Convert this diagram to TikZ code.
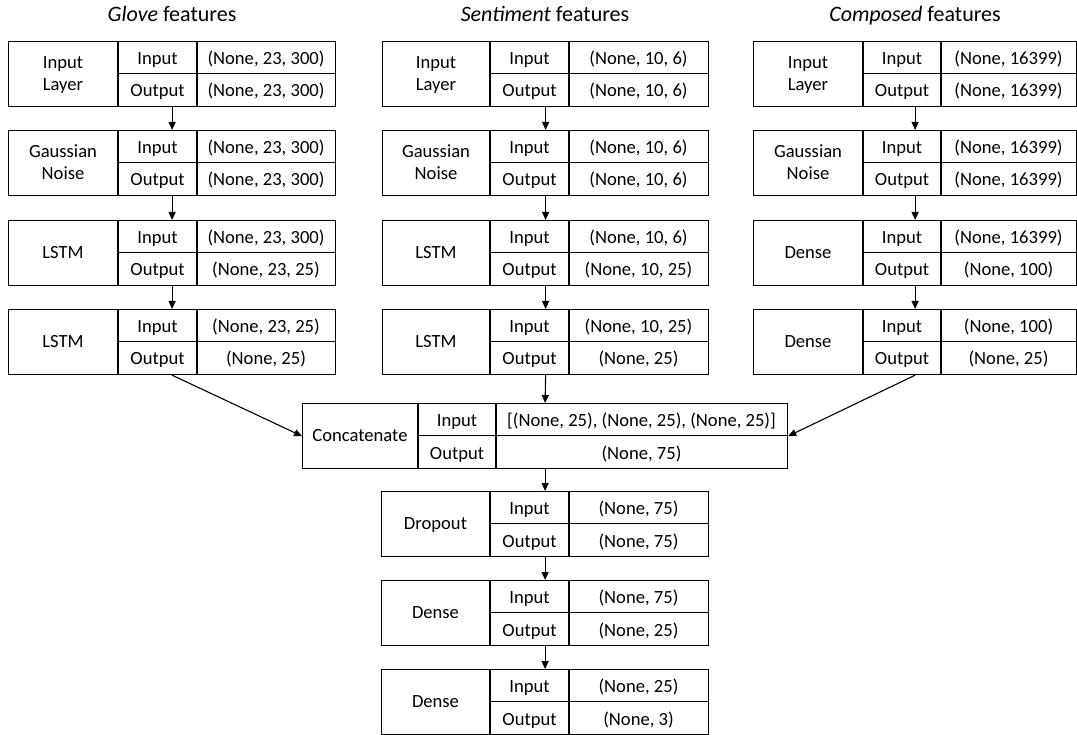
\documentclass[tikz,border=0pt]{standalone}
\usepackage{fontspec}
\setmainfont{Carlito}
\usetikzlibrary{arrows.meta}
\tikzset{
  blk/.style={draw, line width=1.2pt, inner sep=0pt, rectangle},
  ln/.style={line width=1.2pt},
  cell/.style={inner sep=0pt, font=\fontsize{18.6}{22}\selectfont, align=center},
  lbl/.style={cell, execute at begin node=\strut, yshift=-1.6pt},
  ttl/.style={inner sep=0pt, anchor=base, font=\fontsize{22}{26}\selectfont},
  arr/.style={line width=1.1pt, -{Triangle[length=8pt,width=7pt]}},
}
% #1 name, #2 x0, #3 x1, #4 x2, #5 x3, #6 ytop, #7 label, #8 input, #9 output
\newcommand\layerblock[9]{%
  \node[blk, anchor=north west, minimum width={(#5-#2)*1pt}, minimum height=65pt] (#1) at (#2,#6) {};
  \draw[ln] (#3,#6) -- (#3,{#6+65});
  \draw[ln] (#4,#6) -- (#4,{#6+65});
  \draw[ln] (#3,{#6+32.5}) -- (#5,{#6+32.5});
  \node[lbl] (#1-name) at ({(#2+#3)/2},{#6+32.5}) {#7};
  \node[cell, anchor=base] (#1-inl) at ({(#3+#4)/2},{#6+23.5}) {Input};
  \node[cell, anchor=base] (#1-outl) at ({(#3+#4)/2},{#6+56}) {Output};
  \node[cell, anchor=base] (#1-inv) at ({(#4+#5)/2},{#6+23.5}) {#8};
  \node[cell, anchor=base] (#1-outv) at ({(#4+#5)/2},{#6+56}) {#9};
}
\begin{document}
\begin{tikzpicture}[x=1pt,y=-1pt]
\useasboundingbox (0,0) rectangle (1077,735);

\node[ttl] (tg) at (172,22) {\textit{Glove} features};
\node[ttl] (ts) at (545,22) {\textit{Sentiment} features};
\node[ttl] (tc) at (915,22) {\textit{Composed} features};

% Glove column
\layerblock{g1}{8}{118}{197}{335}{41}{Input\strut\\Layer}{(None, 23, 300)}{(None, 23, 300)}
\layerblock{g2}{8}{118}{197}{335}{130}{Gaussian\strut\\Noise}{(None, 23, 300)}{(None, 23, 300)}
\layerblock{g3}{8}{118}{197}{335}{220}{LSTM}{(None, 23, 300)}{(None, 23, 25)}
\layerblock{g4}{8}{118}{197}{335}{309}{LSTM}{(None, 23, 25)}{(None, 25)}

% Sentiment column
\layerblock{s1}{382}{490}{569}{708}{41}{Input\strut\\Layer}{(None, 10, 6)}{(None, 10, 6)}
\layerblock{s2}{382}{490}{569}{708}{130}{Gaussian\strut\\Noise}{(None, 10, 6)}{(None, 10, 6)}
\layerblock{s3}{382}{490}{569}{708}{220}{LSTM}{(None, 10, 6)}{(None, 10, 25)}
\layerblock{s4}{382}{490}{569}{708}{309}{LSTM}{(None, 10, 25)}{(None, 25)}

% Composed column
\layerblock{c1}{753}{863}{941}{1076}{41}{Input\strut\\Layer}{(None, 16399)}{(None, 16399)}
\layerblock{c2}{753}{863}{941}{1076}{130}{Gaussian\strut\\Noise}{(None, 16399)}{(None, 16399)}
\layerblock{c3}{753}{863}{941}{1076}{220}{Dense}{(None, 16399)}{(None, 100)}
\layerblock{c4}{753}{863}{941}{1076}{309}{Dense}{(None, 100)}{(None, 25)}

% Merge and head
\layerblock{cat}{302}{418}{496}{787}{403}{Concatenate}{[(None, 25), (None, 25), (None, 25)]}{(None, 75)}
\layerblock{d1}{381}{490}{569}{708}{491}{Dropout}{(None, 75)}{(None, 75)}
\layerblock{d2}{381}{490}{569}{708}{580}{Dense}{(None, 75)}{(None, 25)}
\layerblock{d3}{381}{490}{569}{708}{669}{Dense}{(None, 25)}{(None, 3)}

% connectors
\foreach \c in {g,s,c}{
  \draw[arr] (\c1.south) -- (\c2.north);
  \draw[arr] (\c2.south) -- (\c3.north);
  \draw[arr] (\c3.south) -- (\c4.north);
}
\draw[arr] (g4.south) -- (cat.west);
\draw[arr] (s4.south) -- (cat.north);
\draw[arr] (c4.south) -- (cat.east);
\draw[arr] (cat.south) -- (d1.north);
\draw[arr] (d1.south) -- (d2.north);
\draw[arr] (d2.south) -- (d3.north);
\end{tikzpicture}
\end{document}
